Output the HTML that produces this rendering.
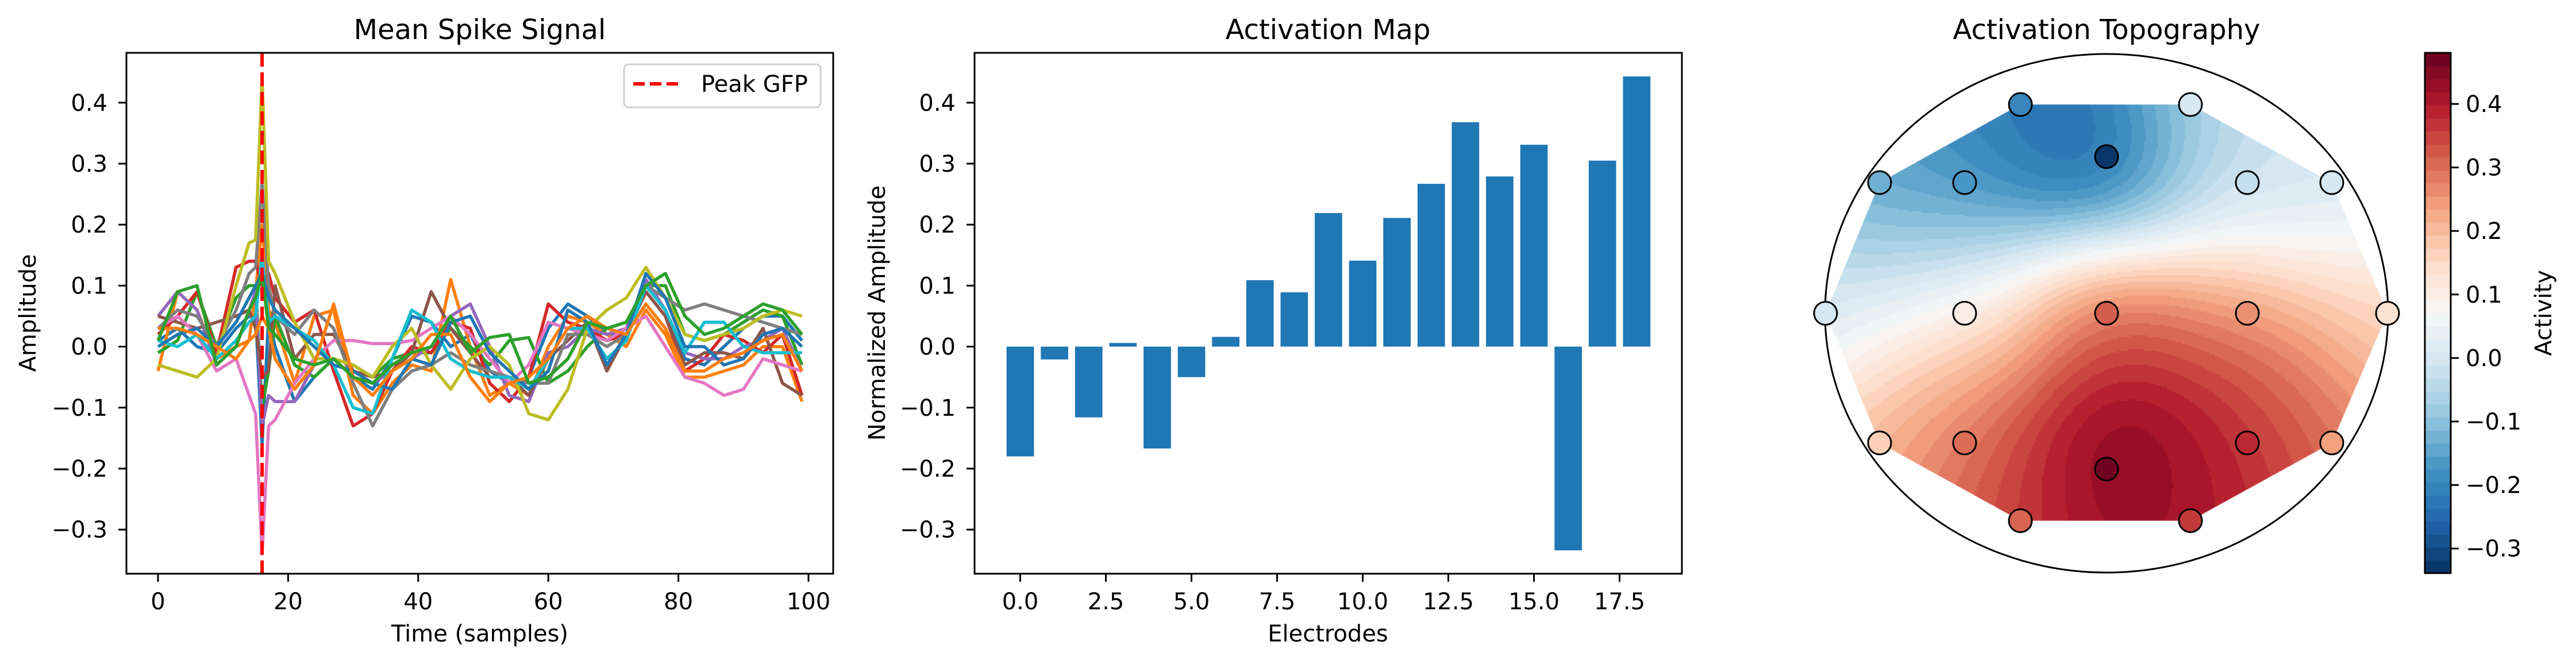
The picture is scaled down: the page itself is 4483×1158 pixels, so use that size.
<!DOCTYPE html>
<html><head><meta charset="utf-8"><style>
html,body{margin:0;padding:0;background:#fff;}
#wrap{position:relative;width:4483px;height:1158px;overflow:hidden;background:#fff;}
#topo{position:absolute;left:0;top:0;}
#svg{position:absolute;left:0;top:0;}
text{font-family:"DejaVu Sans","Liberation Sans",sans-serif;fill:#000;}
</style></head><body>
<div id="wrap">
<canvas id="topo" width="4483" height="1158"></canvas>
<svg id="svg" width="4483" height="1158" xmlns="http://www.w3.org/2000/svg"></svg>
</div>
<script>
// ---------- data ----------
const times = [0,3,6,9,12,14,15,16,17,18,21,24,27,30,33,36,39,42,45,48,51,54,57,60,63,66,69,72,75,78,81,84,87,90,93,96,99];
const sBlue   = [0.01,0.03,0.0,-0.01,0.03,0.05,0.055,-0.16,0.05,0.0,-0.09,-0.05,-0.02,-0.05,-0.07,-0.02,0.05,0.04,0.0,0.02,-0.04,-0.06,-0.05,0.03,0.07,0.05,0.02,0.02,0.1,0.06,-0.02,-0.03,0.0,0.03,0.05,0.05,0.01];
const sOrange = [-0.04,0.09,0.06,-0.02,0.0,0.01,0.09,0.2,0.06,0.04,-0.06,0.05,0.06,-0.08,-0.11,-0.06,-0.03,-0.04,0.11,0.0,-0.08,-0.06,-0.08,0.0,0.05,0.04,0.02,0.0,0.06,0.02,-0.05,-0.05,-0.04,-0.03,0.0,0.0,-0.09];
const sGreen  = [-0.01,0.01,0.09,0.0,0.08,0.1,0.1,-0.1,-0.04,0.05,-0.03,-0.05,-0.02,-0.03,-0.05,-0.02,-0.01,-0.01,0.03,0.0,-0.03,0.01,0.015,-0.06,-0.04,0.0,0.03,0.04,0.1,0.1,0.02,0.01,0.02,0.04,0.06,0.05,-0.03];
const sRed    = [0.02,0.05,0.09,-0.01,0.13,0.14,0.14,0.1,0.12,0.08,0.04,0.06,-0.04,-0.13,-0.11,-0.04,0.0,-0.01,0.04,0.03,-0.06,-0.09,-0.05,0.07,0.04,0.03,0.01,0.02,0.09,0.05,-0.04,-0.02,0.02,0.01,-0.01,0.02,-0.08];
const sPurple = [0.05,0.09,0.06,-0.03,0.0,0.06,0.09,-0.13,-0.08,-0.09,-0.09,-0.03,-0.02,-0.05,-0.06,-0.04,-0.02,0.0,0.05,0.07,0.0,-0.08,-0.09,-0.01,0.0,0.03,0.02,0.03,0.11,0.06,-0.01,-0.02,-0.02,0.0,0.01,0.03,-0.04];
const sBrown  = [0.05,0.04,0.03,0.04,0.05,0.06,0.03,-0.05,-0.04,0.1,-0.02,0.02,0.02,-0.04,-0.05,-0.04,-0.01,0.09,0.03,-0.01,-0.05,-0.05,-0.08,-0.02,0.01,0.04,-0.04,0.02,0.09,0.05,-0.03,-0.01,-0.01,-0.02,0.03,-0.06,-0.08];
const sPink   = [0.03,0.05,0.02,-0.04,-0.02,-0.08,-0.11,-0.34,-0.13,-0.12,-0.06,-0.02,0.01,0.01,0.005,0.005,0.01,0.03,0.05,0.02,-0.02,-0.06,-0.03,0.04,0.03,0.02,0.01,0.03,0.05,0.0,-0.05,-0.06,-0.08,-0.07,-0.02,-0.03,-0.04];
const sGray   = [0.03,0.06,0.05,0.0,0.06,0.12,0.13,0.27,0.1,0.05,0.02,0.06,0.03,-0.06,-0.13,-0.07,-0.04,-0.03,-0.01,-0.03,-0.04,-0.05,-0.06,-0.06,0.02,0.02,0.0,0.02,0.1,0.08,0.06,0.07,0.06,0.05,0.04,0.03,0.02];
const sOlive  = [-0.03,-0.04,-0.05,-0.02,0.1,0.17,0.175,0.44,0.14,0.12,0.04,-0.02,-0.02,-0.03,-0.05,0.0,0.03,-0.03,-0.07,-0.02,0.0,-0.03,-0.11,-0.12,-0.07,0.03,0.06,0.08,0.13,0.08,0.02,0.01,0.02,0.03,0.05,0.06,0.05];
const sCyan   = [0.01,0.0,0.02,-0.02,0.01,0.04,0.05,0.15,0.04,0.05,0.03,0.01,-0.03,-0.1,-0.11,-0.02,0.06,0.04,-0.02,-0.04,-0.05,-0.05,-0.07,-0.02,0.03,0.03,-0.02,0.01,0.1,0.06,-0.01,0.04,0.04,0.0,-0.01,-0.01,-0.01];
const sBlue2  = [0.0,0.02,0.03,0.0,0.04,0.08,0.1,0.12,0.08,0.06,0.03,0.0,-0.03,-0.04,-0.06,-0.07,-0.02,-0.03,0.04,0.05,-0.01,-0.04,-0.07,-0.04,0.06,0.04,-0.03,0.02,0.12,0.08,0.0,0.0,-0.03,-0.02,0.02,0.03,0.0];
const sOrange2= [0.03,0.03,0.02,0.0,-0.02,0.01,0.02,0.05,0.03,-0.02,-0.07,-0.03,0.07,-0.05,-0.08,-0.04,-0.02,0.02,0.02,-0.05,-0.09,-0.06,-0.05,-0.02,0.03,0.05,0.03,0.02,0.07,0.03,-0.04,-0.04,-0.02,-0.01,0.01,0.02,-0.04];
const sGreen2 = [0.01,0.09,0.1,-0.03,0.0,0.06,0.08,0.12,0.03,0.02,-0.02,-0.03,-0.02,-0.05,-0.06,-0.03,-0.01,0.0,0.05,-0.01,0.015,0.02,-0.06,-0.05,-0.02,0.04,0.03,0.04,0.1,0.12,0.05,0.02,0.03,0.05,0.07,0.06,0.02];
const signalSeries = [sBlue,sOrange,sGreen,sRed,sPurple,sBrown,sPink,sGray,sOlive,sCyan,sBlue2,sOrange2,sGreen2];
const seriesColors = ["#1f77b4","#ff7f0e","#2ca02c","#d62728","#9467bd","#8c564b","#e377c2","#7f7f7f","#bcbd22","#17becf","#1f77b4","#ff7f0e","#2ca02c"];
const peakTime = 16;
const xTicks1 = [0,20,40,60,80,100];
const yTicks = [-0.3,-0.2,-0.1,0.0,0.1,0.2,0.3,0.4];
const yTickLabels = ["\u22120.3","\u22120.2","\u22120.1","0.0","0.1","0.2","0.3","0.4"];

const electrodeIdx = [0,1,2,3,4,5,6,7,8,9,10,11,12,13,14,15,16,17,18];
const barValues = [-0.18,-0.021,-0.116,0.006,-0.167,-0.05,0.016,0.109,0.089,0.219,0.141,0.211,0.267,0.368,0.279,0.331,-0.334,0.305,0.443];
const xTicks2 = [0,2.5,5,7.5,10,12.5,15,17.5];
const xTickLabels2 = ["0.0","2.5","5.0","7.5","10.0","12.5","15.0","17.5"];

const elecX = [-0.306,0.298,0,-0.806,-0.504,0.5,0.8,-0.998,-0.504,0,0.5,0.998,-0.806,-0.504,0.5,0.8,0,-0.306,0.298];
const elecY = [0.805,0.805,0.604,0.504,0.504,0.504,0.504,0,0,0,0,0,-0.5,-0.5,-0.5,-0.5,-0.601,-0.8,-0.8];
const elecVal = [-0.2,0.0,-0.33,-0.13,-0.17,-0.03,0.0,0.0,0.1,0.32,0.26,0.13,0.17,0.3,0.38,0.24,0.47,0.31,0.36];
const cbTicks = [-0.3,-0.2,-0.1,0.0,0.1,0.2,0.3,0.4];
const cbTickLabels = ["\u22120.3","\u22120.2","\u22120.1","0.0","0.1","0.2","0.3","0.4"];
const vmin = -0.339, vmax = 0.48;

// ---------- helpers ----------
const svg = document.getElementById('svg');
const NS = "http://www.w3.org/2000/svg";
function mk(tag, attrs, parent){const e=document.createElementNS(NS,tag);for(const k in attrs)e.setAttribute(k,attrs[k]);(parent||svg).appendChild(e);return e;}
function txt(x,y,s,size,anchor,parent,rot){const e=mk('text',{x:x,y:y,'font-size':size,'text-anchor':anchor||'middle'},parent);if(rot)e.setAttribute('transform','rotate('+rot+' '+x+' '+y+')');e.textContent=s;return e;}

const cmapStops=["#053061","#2166ac","#4393c3","#92c5de","#d1e5f0","#f7f7f7","#fddbc7","#f4a582","#d6604d","#b2182b","#67001f"];
function hex(h){return [parseInt(h.slice(1,3),16),parseInt(h.slice(3,5),16),parseInt(h.slice(5,7),16)];}
const stopsRGB=cmapStops.map(hex);
function cmap(t){t=Math.max(0,Math.min(1,t));const p=t*10;const i=Math.min(9,Math.floor(p));const f=p-i;const a=stopsRGB[i],b=stopsRGB[i+1];return [a[0]+(b[0]-a[0])*f,a[1]+(b[1]-a[1])*f,a[2]+(b[2]-a[2])*f].map(Math.round);}
function rgb(c){return 'rgb('+c.join(',')+')';}
const NLEV=40;
function bandColor(v){let k=Math.floor((v-vmin)/(vmax-vmin)*NLEV);k=Math.max(0,Math.min(NLEV-1,k));return cmap((k+0.5)/NLEV);}

// ---------- panel 1 ----------
const P1={l:220,r:1450,t:92,b:999};
const yv = v => 603.6 - v*1062;
const x1 = t => 275 + t*11.32;
const g1=mk('g',{});

const clip=mk('clipPath',{id:'c1'});mk('rect',{x:P1.l,y:P1.t,width:P1.r-P1.l,height:P1.b-P1.t},clip);
const lines=mk('g',{'clip-path':'url(#c1)'},g1);
signalSeries.forEach((s,i)=>{
  const d=s.map((v,j)=>(j?'L':'M')+x1(times[j]).toFixed(1)+','+yv(v).toFixed(1)).join(' ');
  const p=mk('path',{d:d,fill:'none',stroke:seriesColors[i],'stroke-width':5.5,'stroke-linejoin':'round'},lines);
  
  
});
const peak=mk('line',{x1:x1(peakTime),x2:x1(peakTime),y1:P1.t,y2:P1.b,stroke:'#ff0000','stroke-width':6,'stroke-dasharray':'24,10'},g1);


mk('rect',{x:P1.l,y:P1.t,width:P1.r-P1.l,height:P1.b-P1.t,fill:'none',stroke:'#000','stroke-width':3},g1);
xTicks1.forEach(t=>{mk('line',{x1:x1(t),x2:x1(t),y1:P1.b,y2:P1.b+14,stroke:'#000','stroke-width':3},g1);txt(x1(t),1061,String(t),40,'middle',g1);});
yTicks.forEach((t,i)=>{mk('line',{x1:P1.l-14,x2:P1.l,y1:yv(t),y2:yv(t),stroke:'#000','stroke-width':3},g1);txt(187,yv(t)+14,yTickLabels[i],40,'end',g1);});
const t1=txt(835,68,'Mean Spike Signal',48,'middle',g1);
const xl1=txt(835,1117,'Time (samples)',40,'middle',g1);
const yl1=txt(62,545,'Amplitude',40,'middle',g1,-90);
const lg=mk('g',{},g1);
mk('rect',{x:1086,y:112,width:342,height:75,rx:8,fill:'#fff',stroke:'#d0d0d0','stroke-width':3},lg);
mk('line',{x1:1102,x2:1186,y1:146,y2:146,stroke:'#ff0000','stroke-width':6,'stroke-dasharray':'20,9'},lg);
txt(1220,160,'Peak GFP',40,'start',lg);

// ---------- panel 2 ----------
const P2={l:1696,r:2927,t:92,b:999};
const x2 = e => 1775.5 + e*59.6;
const g2=mk('g',{});
barValues.forEach((v,i)=>{
  const y0=yv(0),y1=yv(v);
  const r=mk('rect',{x:x2(electrodeIdx[i])-23.8,y:Math.min(y0,y1),width:47.7,height:Math.abs(y1-y0),fill:'#1f77b4'},g2);
  
  
});
mk('rect',{x:P2.l,y:P2.t,width:P2.r-P2.l,height:P2.b-P2.t,fill:'none',stroke:'#000','stroke-width':3},g2);
xTicks2.forEach((t,i)=>{mk('line',{x1:x2(t),x2:x2(t),y1:P2.b,y2:P2.b+14,stroke:'#000','stroke-width':3},g2);txt(x2(t),1061,xTickLabels2[i],40,'middle',g2);});
yTicks.forEach((t,i)=>{mk('line',{x1:P2.l-14,x2:P2.l,y1:yv(t),y2:yv(t),stroke:'#000','stroke-width':3},g2);txt(1663,yv(t)+14,yTickLabels[i],40,'end',g2);});
const t2=txt(2311,68,'Activation Map',48,'middle',g2);
const xl2=txt(2311,1117,'Electrodes',40,'middle',g2);
const yl2=txt(1540,545,'Normalized Amplitude',40,'middle',g2,-90);

// ---------- panel 3 ----------
const cx=3666, cy=545.5, hx=490, hy=451.5;
const ex = v => cx + v*hx;
const ey = v => cy - v*hy;
const pts=elecX.map((x,i)=>[ex(x),ey(elecY[i])]);
function hull(P){P=P.slice().sort((a,b)=>a[0]-b[0]||a[1]-b[1]);const cr=(o,a,b)=>(a[0]-o[0])*(b[1]-o[1])-(a[1]-o[1])*(b[0]-o[0]);const lo=[],up=[];for(const p of P){while(lo.length>=2&&cr(lo[lo.length-2],lo[lo.length-1],p)<=0)lo.pop();lo.push(p);}for(let i=P.length-1;i>=0;i--){const p=P[i];while(up.length>=2&&cr(up[up.length-2],up[up.length-1],p)<=0)up.pop();up.push(p);}up.pop();lo.pop();return lo.concat(up);}
const H=hull(pts);
const ctx=document.getElementById('topo').getContext('2d');
ctx.save();ctx.beginPath();H.forEach((p,i)=>i?ctx.lineTo(p[0],p[1]):ctx.moveTo(p[0],p[1]));ctx.closePath();ctx.clip();
ctx.beginPath();ctx.ellipse(cx,cy,hx,hy,0,0,Math.PI*2);ctx.clip();
const step=3, sig=125, s2=2*sig*sig;
for(let y=170;y<920;y+=step){for(let x=3170;x<4165;x+=step){
  let ws=0,vs=0;
  for(let i=0;i<pts.length;i++){const dx=x-pts[i][0],dy=y-pts[i][1];const w=Math.exp(-(dx*dx+dy*dy)/s2)+1e-6/(1+(dx*dx+dy*dy));ws+=w;vs+=w*elecVal[i];}
  const v=(vs/ws)*1.08;
  ctx.fillStyle=rgb(bandColor(v));ctx.fillRect(x,y,step,step);
}}
ctx.restore();
const g3=mk('g',{});
const head=mk('ellipse',{cx:cx,cy:cy,rx:hx,ry:hy,fill:'none',stroke:'#000','stroke-width':3},g3);

pts.forEach((p,i)=>{
  const c=mk('circle',{cx:p[0],cy:p[1],r:20,fill:rgb(cmap((elecVal[i]-vmin)/(vmax-vmin))),stroke:'#000','stroke-width':3},g3);
  
  
});
const t3=txt(3666,68,'Activation Topography',48,'middle',g3);
const cb={l:4220,r:4265,t:92,b:998};
const cv = v => 181 + (0.4-v)*1106;
const gcb=mk('g',{},g3);
for(let k=0;k<NLEV;k++){const a=vmin+(vmax-vmin)*k/NLEV,b=vmin+(vmax-vmin)*(k+1)/NLEV;mk('rect',{x:cb.l,y:cv(b),width:cb.r-cb.l,height:cv(a)-cv(b)+0.6,fill:rgb(cmap((k+0.5)/NLEV))},gcb);}
mk('rect',{x:cb.l,y:cb.t,width:cb.r-cb.l,height:cb.b-cb.t,fill:'none',stroke:'#000','stroke-width':3},gcb);
cbTicks.forEach((t,i)=>{mk('line',{x1:cb.r,x2:cb.r+14,y1:cv(t),y2:cv(t),stroke:'#000','stroke-width':3},gcb);txt(4291,cv(t)+14,cbTickLabels[i],40,'start',gcb);});
const cbl=txt(4440,545,'Activity',40,'middle',gcb,-90);
</script>
</body></html>
